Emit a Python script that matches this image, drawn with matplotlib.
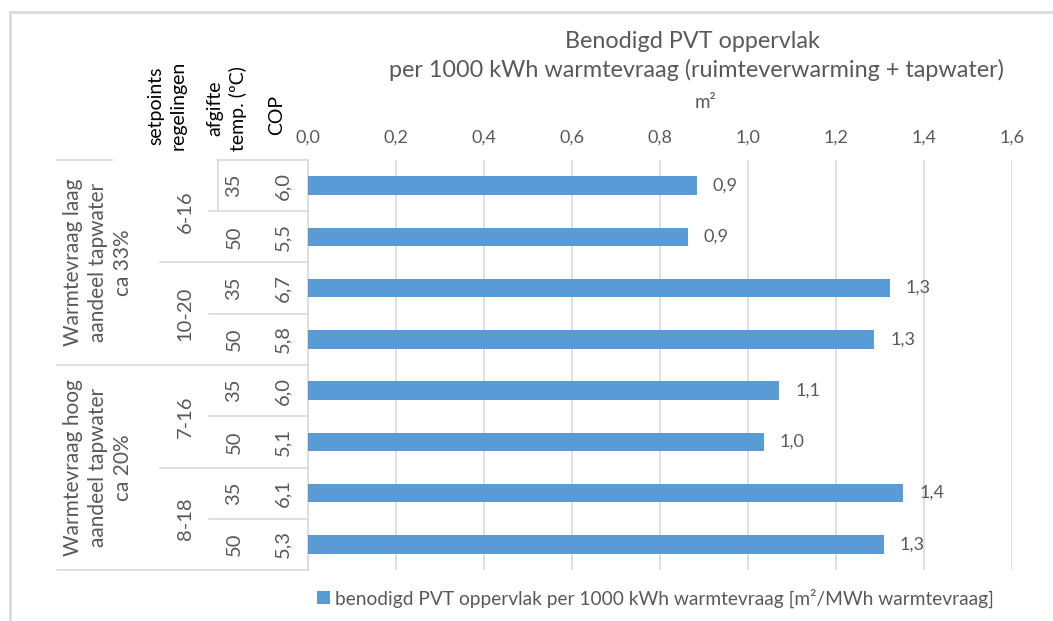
import matplotlib
matplotlib.use("Agg")
import numpy as np
from matplotlib import pyplot as plt
from matplotlib.lines import Line2D
from matplotlib.transforms import blended_transform_factory

W, H = 1053, 621

groups = ["Warmtevraag laag\naandeel tapwater\nca 33%",
          "Warmtevraag hoog\naandeel tapwater\nca 20%"]
setpoints = ["6-16", "10-20", "7-16", "8-18"]
temps = ["35", "50", "35", "50", "35", "50", "35", "50"]
cop = ["6,0", "5,5", "6,7", "5,8", "6,0", "5,1", "6,1", "5,3"]
area = [0.883, 0.863, 1.322, 1.287, 1.071, 1.036, 1.353, 1.309]
xticks = [0.0, 0.2, 0.4, 0.6, 0.8, 1.0, 1.2, 1.4, 1.6]
series_name = "benodigd PVT oppervlak per 1000 kWh warmtevraag [m²/MWh warmtevraag]"

plt.rcParams['font.family'] = ['Lato', 'DejaVu Sans']
txt = '#595959'
line_c = '#D9D9D9'


def fx(px):
    return px / W


def fy(py):
    return 1 - py / H


fig = plt.figure(figsize=(W / 100, H / 100), dpi=100)
ax = fig.add_axes([fx(308), fy(570), fx(1012) - fx(308), (570 - 160) / H])

y = np.arange(len(area))
bars = ax.barh(y, area, height=0.357, color='#5B9BD5', label=series_name, zorder=3)
ax.bar_label(bars, labels=[f"{v:.1f}".replace('.', ',') for v in area],
             padding=11.5, color=txt, fontsize=13)

ax.set_xlim(0, 1.6)
ax.set_ylim(len(area) - 0.5, -0.5)
ax.set_xticks(xticks)
ax.set_xticklabels([f"{v:.1f}".replace('.', ',') for v in xticks])
ax.xaxis.tick_top()
ax.tick_params(axis='x', length=0, pad=10, labelsize=13, labelcolor=txt)
ax.set_yticks([])
ax.grid(axis='x', color=line_c, lw=1.2, zorder=0)
for s in ['top', 'right', 'bottom']:
    ax.spines[s].set_visible(False)
ax.spines['left'].set_color(line_c)
ax.spines['left'].set_linewidth(1.2)

# table on the left
tr = blended_transform_factory(fig.transFigure, ax.transData)
for i in range(len(area)):
    b = i + 0.5
    if (i + 1) % 4 == 0:
        x0 = 57
    elif (i + 1) % 2 == 0:
        x0 = 160
    else:
        x0 = 209
    ax.plot([fx(x0), fx(308)], [b, b], transform=tr, clip_on=False, color=line_c, lw=1.2)
ax.plot([fx(57), fx(112)], [-0.5, -0.5], transform=tr, clip_on=False, color=line_c, lw=1.2)
ax.plot([fx(218), fx(308)], [-0.5, -0.5], transform=tr, clip_on=False, color=line_c, lw=1.2)
ax.plot([fx(218), fx(218)], [-0.5, 0.5], transform=tr, clip_on=False, color=line_c, lw=1.2)

for i in range(len(area)):
    ax.text(fx(283), i, cop[i], transform=tr, rotation=90, ha='center', va='center',
            color=txt, fontsize=14.5)
    ax.text(fx(234), i, temps[i], transform=tr, rotation=90, ha='center', va='center',
            color=txt, fontsize=14.5)
for k, s in enumerate(setpoints):
    ax.text(fx(185), 2 * k + 0.5, s, transform=tr, rotation=90, ha='center', va='center',
            color=txt, fontsize=14.5)
for k, g in enumerate(groups):
    ax.text(fx(98), 4 * k + 1.5, g, transform=tr, rotation=90, ha='center', va='center',
            multialignment='center', color=txt, fontsize=15, linespacing=1.3)

# header
fig.text(fx(167), fy(150), "setpoints\nregelingen", rotation=90, ha='center', va='bottom',
         multialignment='center', fontsize=14, color='black', linespacing=1.35)
fig.text(fx(227), fy(151), "afgifte\ntemp. (ºC)", rotation=90, ha='center', va='bottom',
         multialignment='center', fontsize=14, color='black', linespacing=1.35)
fig.text(fx(277), fy(135), "COP", rotation=90, ha='center', va='bottom',
         fontsize=14, color='black')

fig.text(fx(692), fy(42), "Benodigd PVT oppervlak", ha='center', va='center',
         fontsize=16.8, color=txt)
fig.text(fx(696), fy(70), "per 1000 kWh warmtevraag (ruimteverwarming + tapwater)",
         ha='center', va='center', fontsize=16.8, color=txt)
fig.text(fx(705), fy(103), "m²", ha='center', va='center', fontsize=13.5, color=txt)

fig.legend(loc='center left', bbox_to_anchor=(fx(317), fy(598)), frameon=False,
           handlelength=0.7, handleheight=0.7, handletextpad=0.25,
           fontsize=13.8, labelcolor=txt, borderaxespad=0, borderpad=0)

# chart area border (left and top only visible)
fig.add_artist(Line2D([fx(10), fx(10)], [fy(12), 0], color=line_c, lw=2))
fig.add_artist(Line2D([fx(10), 1], [fy(12), fy(12)], color=line_c, lw=2))

plt.savefig('out.png', dpi=100)
